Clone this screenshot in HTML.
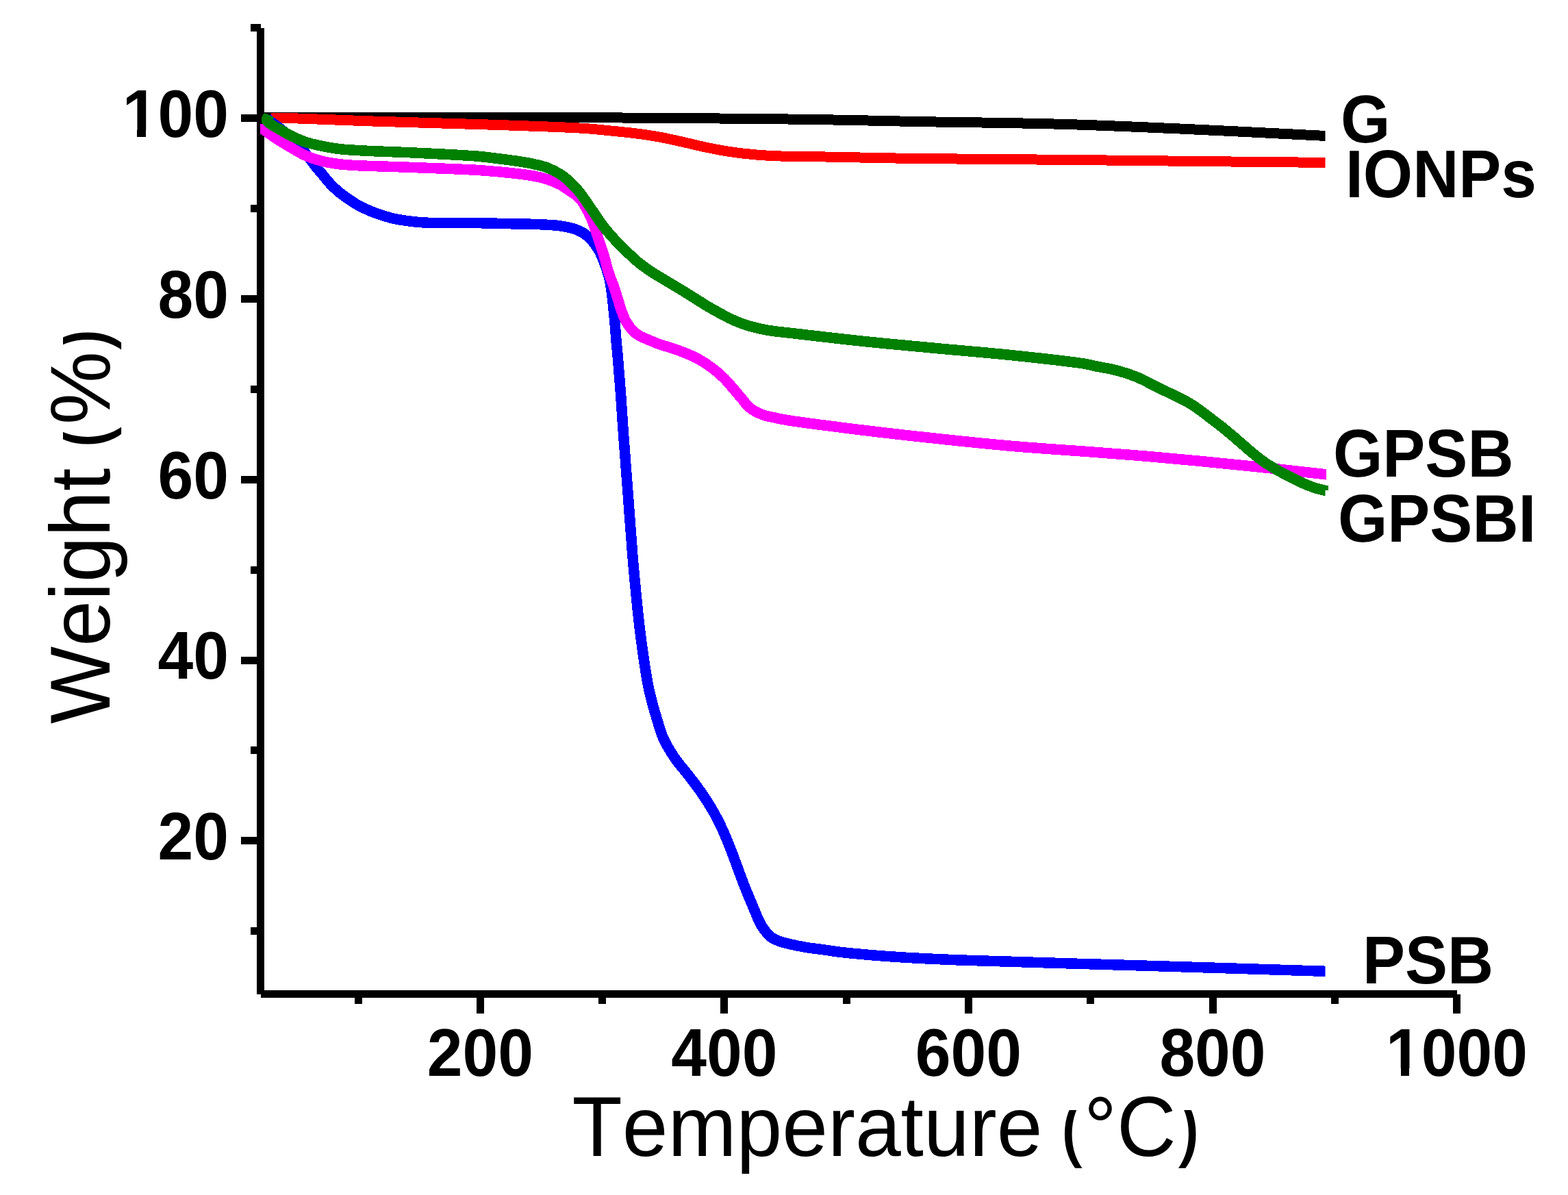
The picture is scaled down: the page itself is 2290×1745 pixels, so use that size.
<!DOCTYPE html>
<html lang="en">
<head>
<meta charset="utf-8">
<title>TGA curves: weight vs temperature</title>
<style>
html,body{margin:0;padding:0;background:#fff;}
body{width:2290px;height:1745px;overflow:hidden;}
svg{display:block;}
text{font-family:"Liberation Sans",sans-serif;fill:#000;font-kerning:none;}
.b{font-weight:bold;font-size:93px;}
.t{font-weight:normal;font-size:120px;}
</style>
</head>
<body>
<svg width="2290" height="1745" viewBox="0 0 2290 1745">
<rect x="0" y="0" width="2290" height="1745" fill="#ffffff"/>
<g id="axes" stroke="#000" fill="none" shape-rendering="crispEdges">
<line x1="380.5" y1="40.7" x2="380.5" y2="1451.5" stroke-width="11"/>
<line x1="380.5" y1="1451.5" x2="2127.5" y2="1451.5" stroke-width="11"/>
<line x1="366.0" y1="1359.7" x2="380.5" y2="1359.7" stroke-width="11"/>
<line x1="352.0" y1="1227.8" x2="380.5" y2="1227.8" stroke-width="11"/>
<line x1="366.0" y1="1095.9" x2="380.5" y2="1095.9" stroke-width="11"/>
<line x1="352.0" y1="964.0" x2="380.5" y2="964.0" stroke-width="11"/>
<line x1="366.0" y1="832.1" x2="380.5" y2="832.1" stroke-width="11"/>
<line x1="352.0" y1="700.2" x2="380.5" y2="700.2" stroke-width="11"/>
<line x1="366.0" y1="568.3" x2="380.5" y2="568.3" stroke-width="11"/>
<line x1="352.0" y1="436.4" x2="380.5" y2="436.4" stroke-width="11"/>
<line x1="366.0" y1="304.5" x2="380.5" y2="304.5" stroke-width="11"/>
<line x1="352.0" y1="172.6" x2="380.5" y2="172.6" stroke-width="11"/>
<line x1="366.0" y1="40.7" x2="380.5" y2="40.7" stroke-width="11"/>
<line x1="523.0" y1="1451.5" x2="523.0" y2="1466.0" stroke-width="11"/>
<line x1="701.3" y1="1451.5" x2="701.3" y2="1480.0" stroke-width="11"/>
<line x1="879.6" y1="1451.5" x2="879.6" y2="1466.0" stroke-width="11"/>
<line x1="1057.8" y1="1451.5" x2="1057.8" y2="1480.0" stroke-width="11"/>
<line x1="1236.1" y1="1451.5" x2="1236.1" y2="1466.0" stroke-width="11"/>
<line x1="1414.4" y1="1451.5" x2="1414.4" y2="1480.0" stroke-width="11"/>
<line x1="1592.7" y1="1451.5" x2="1592.7" y2="1466.0" stroke-width="11"/>
<line x1="1771.0" y1="1451.5" x2="1771.0" y2="1480.0" stroke-width="11"/>
<line x1="1949.2" y1="1451.5" x2="1949.2" y2="1466.0" stroke-width="11"/>
<line x1="2127.5" y1="1451.5" x2="2127.5" y2="1480.0" stroke-width="11"/>
</g>
<defs>
<clipPath id="clipx"><rect x="0" y="1500" width="1545" height="245"/><rect x="1545" y="1621.1" width="43.5" height="84.6"/><rect x="1588.5" y="1500" width="125" height="245"/><rect x="1713.5" y="1621.1" width="62.5" height="84.6"/></clipPath>
<clipPath id="clipy"><rect x="0" y="652" width="400" height="600"/><rect x="92.0" y="616.5" width="85.1" height="35.5"/><rect x="0" y="517.5" width="400" height="99"/><rect x="92.0" y="460" width="85.1" height="57.5"/></clipPath>
</defs>
<g id="ticklabels">
<text id="yl100" class="b" text-anchor="end" transform="translate(334.00,199.90) scale(1,1.050)">100</text>
<text id="yl80" class="b" text-anchor="end" transform="translate(334.00,463.70) scale(1,1.050)">80</text>
<text id="yl60" class="b" text-anchor="end" transform="translate(334.00,727.50) scale(1,1.050)">60</text>
<text id="yl40" class="b" text-anchor="end" transform="translate(334.00,991.30) scale(1,1.050)">40</text>
<text id="yl20" class="b" text-anchor="end" transform="translate(334.00,1255.10) scale(1,1.050)">20</text>
<text id="xl200" class="b" text-anchor="middle" transform="translate(701.28,1570.80) scale(1,1.050)">200</text>
<text id="xl400" class="b" text-anchor="middle" transform="translate(1057.84,1570.80) scale(1,1.050)">400</text>
<text id="xl600" class="b" text-anchor="middle" transform="translate(1414.40,1570.80) scale(1,1.050)">600</text>
<text id="xl800" class="b" text-anchor="middle" transform="translate(1770.96,1570.80) scale(1,1.050)">800</text>
<text id="xl1000" class="b" text-anchor="middle" transform="translate(2127.52,1570.80) scale(1,1.050)">1000</text>
</g>
<g id="titles">
<g clip-path="url(#clipx)"><text id="xtitle" class="t" transform="translate(0,1688.10) scale(1,1.042)"><tspan x="835.5">Temperature </tspan><tspan x="1547.5">(</tspan><tspan x="1583.0">°C</tspan><tspan x="1714.0">)</tspan></text></g>
<g clip-path="url(#clipy)"><text id="ytitle" class="t" transform="translate(159.60,0) rotate(-90) scale(1,1.042)"><tspan x="-1057.0">Weight </tspan><tspan x="-656.0">(</tspan><tspan x="-620.0">%</tspan><tspan x="-518.0">)</tspan></text></g>
</g>
<clipPath id="clipc"><rect x="380" y="0" width="1555.5" height="1745"/></clipPath>
<clipPath id="clipm"><polygon points="380,181 391,181 391,0 1937,0 1937,1745 380,1745"/></clipPath>
<clipPath id="clipg"><polygon points="380,0 1935.5,0 1935.5,703 1940,703 1940,716 1935.5,716 1935.5,1745 380,1745"/></clipPath>
<g id="curves" fill="none" stroke-linejoin="round" stroke-linecap="butt" shape-rendering="crispEdges">
<g clip-path="url(#clipc)"><path id="c-black" stroke="#000000" stroke-width="15.0" d="M372.0,171.3 C428.3,171.3 479.8,171.3 541.0,171.3 C613.8,171.3 705.8,171.1 780.0,171.3 C844.7,171.5 898.3,171.9 961.6,172.4 C1031.0,172.9 1113.8,173.3 1180.0,174.3 C1235.1,175.1 1276.5,176.3 1331.6,177.4 C1397.8,178.7 1480.6,179.3 1550.0,181.3 C1613.3,183.1 1669.4,185.7 1731.6,188.4 C1797.5,191.3 1910.2,197.2 1934.9,198.4 C1940.4,198.7 1941.6,198.7 1945.0,198.9"/></g>
<g clip-path="url(#clipc)"><path id="c-red" stroke="#ff0000" stroke-width="15.0" d="M396.0,172.6 C404.0,172.6 408.9,172.4 420.0,172.6 C445.7,173.1 502.7,175.7 547.0,177.1 C595.6,178.7 657.2,180.2 700.0,181.6 C731.0,182.6 754.0,183.3 780.0,184.3 C804.8,185.2 832.6,186.1 852.6,187.4 C866.8,188.3 876.8,189.5 888.9,190.7 C901.0,191.9 913.2,193.0 925.3,194.5 C937.4,196.0 949.5,197.6 961.6,199.8 C973.7,202.0 985.8,204.8 997.9,207.5 C1010.0,210.2 1022.1,213.3 1034.2,215.8 C1046.3,218.2 1058.4,220.5 1070.5,222.2 C1082.6,223.9 1094.7,225.2 1106.8,226.2 C1118.9,227.2 1130.9,227.7 1143.1,228.1 C1155.3,228.5 1163.5,228.3 1180.0,228.5 C1213.4,229.0 1276.5,230.6 1331.6,231.4 C1397.8,232.3 1480.6,232.6 1550.0,233.3 C1613.3,233.9 1669.4,234.6 1731.6,235.3 C1797.5,236.0 1910.2,237.2 1934.9,237.4 C1940.4,237.5 1941.6,237.5 1945.0,237.5"/></g>
<g clip-path="url(#clipc)"><path id="c-blue" stroke="#0000ff" stroke-width="15.5" d="M390.0,172.0 C391.1,173.2 391.5,174.1 393.2,175.7 C397.2,179.5 408.0,186.3 415.7,193.1 C424.8,201.1 435.8,212.1 444.0,221.4 C451.2,229.5 457.8,239.2 462.8,245.3 C466.0,249.2 467.8,251.2 470.8,254.7 C474.5,259.1 479.1,265.1 483.5,269.7 C487.6,274.0 491.9,277.8 496.2,281.4 C500.3,284.8 504.6,287.7 508.9,290.6 C513.1,293.5 517.3,296.4 521.6,298.9 C525.8,301.3 530.0,303.2 534.3,305.2 C538.5,307.1 542.0,308.7 547.0,310.6 C554.0,313.2 563.9,316.5 572.4,318.6 C580.8,320.6 589.3,321.9 597.8,323.0 C606.2,324.1 614.7,324.8 623.2,325.2 C631.7,325.6 638.7,325.4 648.6,325.5 C662.7,325.6 682.2,325.5 700.0,325.7 C719.2,326.0 745.4,326.8 760.0,327.1 C768.5,327.3 772.3,327.1 780.0,327.4 C790.7,327.8 807.6,328.4 818.1,329.8 C825.6,330.8 831.5,332.0 837.1,333.7 C841.8,335.2 846.0,336.9 849.8,339.0 C853.1,340.9 856.1,343.1 858.7,345.3 C861.0,347.3 862.6,348.8 864.7,351.4 C867.8,355.1 872.1,361.2 874.9,366.0 C877.3,370.3 878.7,373.7 880.7,378.7 C883.5,385.7 887.3,396.6 889.3,404.1 C890.9,410.0 891.4,413.2 892.4,420.0 C894.2,432.1 896.6,456.8 897.9,470.8 C898.8,480.7 899.2,487.7 899.9,496.2 C900.6,504.7 901.6,513.1 902.3,521.6 C903.0,530.1 903.6,538.5 904.3,547.0 C905.0,555.5 905.7,563.9 906.3,572.4 C906.9,580.9 907.6,589.6 908.1,597.8 C908.6,605.4 908.8,610.0 909.5,620.0 C910.9,640.7 914.3,683.5 916.7,715.2 C919.1,747.0 921.6,784.2 923.8,810.5 C925.3,829.1 926.6,842.2 928.1,858.1 C929.6,874.0 931.1,889.8 932.9,905.7 C934.7,921.6 936.7,937.5 939.0,953.3 C941.2,969.0 943.8,986.8 946.4,1000.0 C948.3,1009.8 950.1,1017.0 952.3,1025.4 C954.5,1033.9 957.1,1042.4 959.7,1050.8 C962.3,1059.3 964.2,1067.6 968.0,1076.2 C972.2,1085.8 978.3,1096.3 984.5,1105.5 C990.5,1114.5 998.0,1122.5 1004.5,1131.0 C1011.0,1139.4 1017.4,1147.4 1023.6,1156.4 C1030.2,1166.0 1037.3,1177.1 1042.9,1187.0 C1047.8,1195.8 1051.8,1203.9 1055.7,1212.5 C1059.6,1220.9 1062.9,1229.5 1066.3,1238.0 C1069.7,1246.4 1072.6,1254.5 1075.9,1263.4 C1079.5,1273.1 1083.2,1283.6 1087.3,1294.0 C1091.6,1304.8 1097.5,1318.6 1101.0,1327.0 C1103.2,1332.2 1104.4,1335.5 1106.3,1339.7 C1108.2,1344.0 1110.1,1348.4 1112.6,1352.4 C1115.1,1356.4 1118.6,1360.8 1121.3,1363.8 C1123.3,1366.0 1124.6,1367.5 1127.0,1369.1 C1130.3,1371.3 1135.4,1373.3 1139.7,1374.9 C1143.9,1376.4 1147.4,1377.2 1152.4,1378.4 C1159.4,1380.1 1169.3,1382.1 1177.8,1383.5 C1186.2,1384.9 1194.7,1385.7 1203.2,1386.9 C1211.7,1388.1 1220.1,1389.5 1228.6,1390.5 C1237.1,1391.5 1245.5,1392.2 1254.0,1393.0 C1262.6,1393.8 1270.1,1394.5 1280.0,1395.3 C1293.3,1396.3 1309.5,1397.5 1326.8,1398.5 C1348.5,1399.7 1368.0,1400.7 1400.0,1401.9 C1461.2,1404.2 1577.9,1407.3 1667.0,1410.0 C1756.4,1412.7 1907.4,1417.4 1935.6,1418.3 C1940.9,1418.5 1941.9,1418.5 1945.0,1418.6"/></g>
<g clip-path="url(#clipm)"><path id="c-magenta" stroke="#ff00ff" stroke-width="15.5" d="M374.0,182.5 C376.0,183.8 378.1,185.0 380.1,186.3 C382.1,187.5 383.5,188.4 386.0,190.0 C390.3,192.9 397.8,198.7 403.6,202.5 C409.1,206.1 413.9,208.9 420.0,212.5 C427.5,216.9 436.7,222.9 445.4,226.8 C453.7,230.5 462.2,233.2 470.8,235.4 C479.2,237.5 487.7,238.7 496.2,239.8 C504.6,240.8 513.1,241.2 521.6,241.7 C530.1,242.2 537.1,242.3 547.0,242.6 C561.0,243.1 580.9,243.7 597.8,244.3 C614.7,244.9 631.6,245.5 648.6,246.2 C665.7,246.9 682.2,247.4 700.0,248.6 C719.2,249.9 745.4,252.5 760.0,254.2 C768.5,255.2 773.4,255.8 780.0,257.1 C786.4,258.4 792.7,259.8 799.0,261.8 C805.4,263.9 812.5,266.7 818.1,269.6 C822.9,272.1 826.4,274.9 830.8,277.9 C835.7,281.3 841.5,284.4 845.9,289.0 C850.7,294.1 854.9,301.7 858.2,307.6 C860.9,312.5 862.4,316.2 864.6,321.6 C867.5,328.8 870.4,338.5 873.3,347.0 C876.2,355.5 879.2,363.9 881.8,372.4 C884.4,380.8 886.2,389.7 888.8,397.8 C891.3,405.5 894.8,413.1 897.1,420.0 C899.1,425.9 900.5,431.1 902.2,436.5 C903.8,441.7 905.2,446.6 907.0,451.7 C909.0,457.1 910.7,463.0 913.7,468.3 C916.9,473.9 921.7,480.5 925.7,484.4 C928.7,487.3 931.4,488.8 934.6,490.7 C938.1,492.7 941.8,494.0 946.0,495.8 C951.0,497.9 956.8,500.4 962.5,502.5 C968.6,504.7 975.9,506.6 981.6,508.5 C986.3,510.1 990.1,511.4 994.3,513.0 C998.5,514.6 1002.8,516.2 1007.0,518.0 C1011.3,519.9 1015.5,521.8 1019.7,524.1 C1024.0,526.5 1028.2,529.2 1032.4,532.0 C1036.7,534.9 1040.9,537.9 1045.1,541.3 C1049.4,544.8 1053.7,548.6 1057.8,552.7 C1062.2,557.1 1066.3,562.2 1070.5,567.0 C1074.8,571.9 1079.2,577.3 1083.2,582.0 C1086.8,586.2 1089.8,590.8 1093.3,594.0 C1096.2,596.7 1098.9,598.4 1102.2,600.3 C1106.0,602.5 1110.2,604.4 1114.9,606.0 C1120.5,607.9 1127.9,609.2 1134.0,610.5 C1139.6,611.7 1142.3,612.3 1150.0,613.6 C1170.1,616.9 1222.6,623.5 1258.9,628.0 C1295.2,632.5 1331.6,636.5 1367.9,640.4 C1404.2,644.3 1439.4,648.0 1476.8,651.3 C1516.6,654.8 1563.7,657.6 1600.0,660.4 C1628.7,662.6 1651.4,664.3 1677.1,666.5 C1702.8,668.7 1728.5,671.1 1754.2,673.5 C1779.9,676.0 1805.6,678.5 1831.3,681.2 C1857.0,683.9 1889.7,687.6 1908.4,689.7 C1919.2,690.9 1927.0,691.8 1933.8,692.5 C1938.3,693.0 1941.3,693.3 1945.0,693.7"/></g>
<g clip-path="url(#clipg)"><path id="c-green" stroke="#008000" stroke-width="15.5" d="M393.0,168.0 C391.8,170.7 388.9,173.6 389.5,176.0 C390.1,178.7 394.8,180.8 398.0,183.0 C401.7,185.6 406.9,188.0 410.8,190.3 C414.1,192.2 416.1,193.7 420.0,195.7 C426.3,198.9 436.8,204.1 445.4,207.1 C453.7,210.0 462.3,211.6 470.8,213.4 C479.2,215.1 487.7,216.6 496.2,217.6 C504.6,218.6 513.1,219.0 521.6,219.5 C530.1,220.0 537.1,220.4 547.0,220.8 C561.0,221.4 580.9,222.0 597.8,222.7 C614.7,223.4 631.6,224.3 648.6,225.2 C665.7,226.2 686.3,227.2 700.0,228.4 C709.2,229.2 714.4,230.0 723.0,231.1 C733.9,232.5 749.6,234.3 760.0,236.0 C767.7,237.2 773.4,238.2 780.0,239.7 C786.4,241.2 792.8,242.4 799.0,244.8 C805.5,247.3 812.4,250.7 818.1,254.3 C823.3,257.6 827.6,261.1 832.0,265.1 C836.6,269.3 840.9,274.0 845.0,279.0 C849.4,284.3 853.4,290.3 857.5,296.2 C861.7,302.2 865.9,308.6 870.0,314.6 C873.9,320.3 877.5,325.8 881.6,331.1 C885.6,336.3 890.0,341.2 894.3,346.0 C898.5,350.7 902.7,355.4 907.0,359.7 C911.2,363.9 915.4,367.8 919.7,371.7 C923.9,375.6 928.1,379.6 932.4,383.2 C936.6,386.6 940.8,389.7 945.1,392.7 C949.3,395.6 953.5,398.3 957.8,401.0 C962.0,403.6 966.3,406.1 970.5,408.6 C974.7,411.1 979.0,413.7 983.2,416.2 C987.4,418.7 991.8,421.3 995.9,423.8 C999.7,426.1 1003.2,428.3 1007.0,430.7 C1011.1,433.3 1015.5,436.0 1019.7,438.7 C1023.9,441.4 1028.1,444.2 1032.4,446.7 C1036.6,449.2 1040.9,451.5 1045.1,453.9 C1049.3,456.3 1053.5,458.7 1057.8,460.9 C1062.0,463.1 1066.2,465.3 1070.5,467.2 C1074.7,469.1 1078.9,470.7 1083.2,472.3 C1087.4,473.8 1091.6,475.3 1095.9,476.5 C1100.1,477.7 1104.4,478.7 1108.6,479.7 C1112.8,480.6 1117.1,481.5 1121.3,482.2 C1125.5,482.9 1129.5,483.5 1134.0,484.1 C1139.0,484.7 1142.3,485.0 1150.0,485.8 C1170.1,488.0 1222.6,494.4 1258.9,498.2 C1295.2,502.0 1331.6,505.2 1367.9,508.6 C1404.2,512.0 1440.5,514.8 1476.8,518.6 C1513.1,522.4 1566.4,528.2 1585.7,531.5 C1592.7,532.7 1594.3,533.5 1600.0,534.7 C1608.3,536.5 1620.6,538.2 1630.8,540.9 C1641.2,543.7 1651.6,547.0 1661.7,551.2 C1672.1,555.5 1682.2,561.6 1692.5,566.6 C1702.8,571.6 1714.9,577.0 1723.4,581.3 C1729.5,584.4 1733.7,586.6 1738.8,589.7 C1744.0,592.9 1749.1,596.6 1754.2,600.3 C1759.4,604.0 1764.5,608.1 1769.6,612.0 C1774.7,615.9 1779.9,619.7 1785.0,623.8 C1790.2,628.0 1795.4,632.3 1800.5,636.7 C1805.7,641.1 1810.8,645.6 1815.9,650.0 C1821.0,654.4 1826.1,659.0 1831.3,663.2 C1836.4,667.3 1841.5,671.4 1846.7,675.0 C1851.7,678.5 1856.9,681.5 1862.1,684.5 C1867.2,687.5 1872.4,690.4 1877.6,693.1 C1882.7,695.8 1887.9,698.3 1893.0,700.8 C1898.1,703.3 1903.2,705.9 1908.4,708.0 C1913.5,710.1 1919.2,712.1 1923.8,713.5 C1927.5,714.6 1930.4,715.2 1933.8,716.0 C1937.4,716.9 1941.3,717.7 1945.0,718.5"/></g>
</g>
<g id="labels">
<text id="lb0" class="b" text-anchor="start" transform="translate(1958.00,208.00) scale(1,1.050)">G</text>
<text id="lb1" class="b" text-anchor="start" transform="translate(1965.00,288.00) scale(1,1.050)">IONPs</text>
<text id="lb2" class="b" text-anchor="start" transform="translate(1947.00,696.10) scale(1,1.050)">GPSB</text>
<text id="lb3" class="b" text-anchor="start" transform="translate(1954.00,790.90) scale(1,1.050)">GPSBI</text>
<text id="lb4" class="b" text-anchor="start" transform="translate(1990.00,1436.00) scale(1,1.050)">PSB</text>
</g>
<g id="glyph-trim" fill="#ffffff" shape-rendering="crispEdges">
<rect x="183" y="189.5" width="16.9" height="13"/><rect x="213.3" y="189.5" width="16" height="13"/>
<rect x="2028" y="1560" width="17.8" height="13.5"/><rect x="2058.4" y="1560" width="16" height="13.5"/>
</g>
</svg>
</body>
</html>
